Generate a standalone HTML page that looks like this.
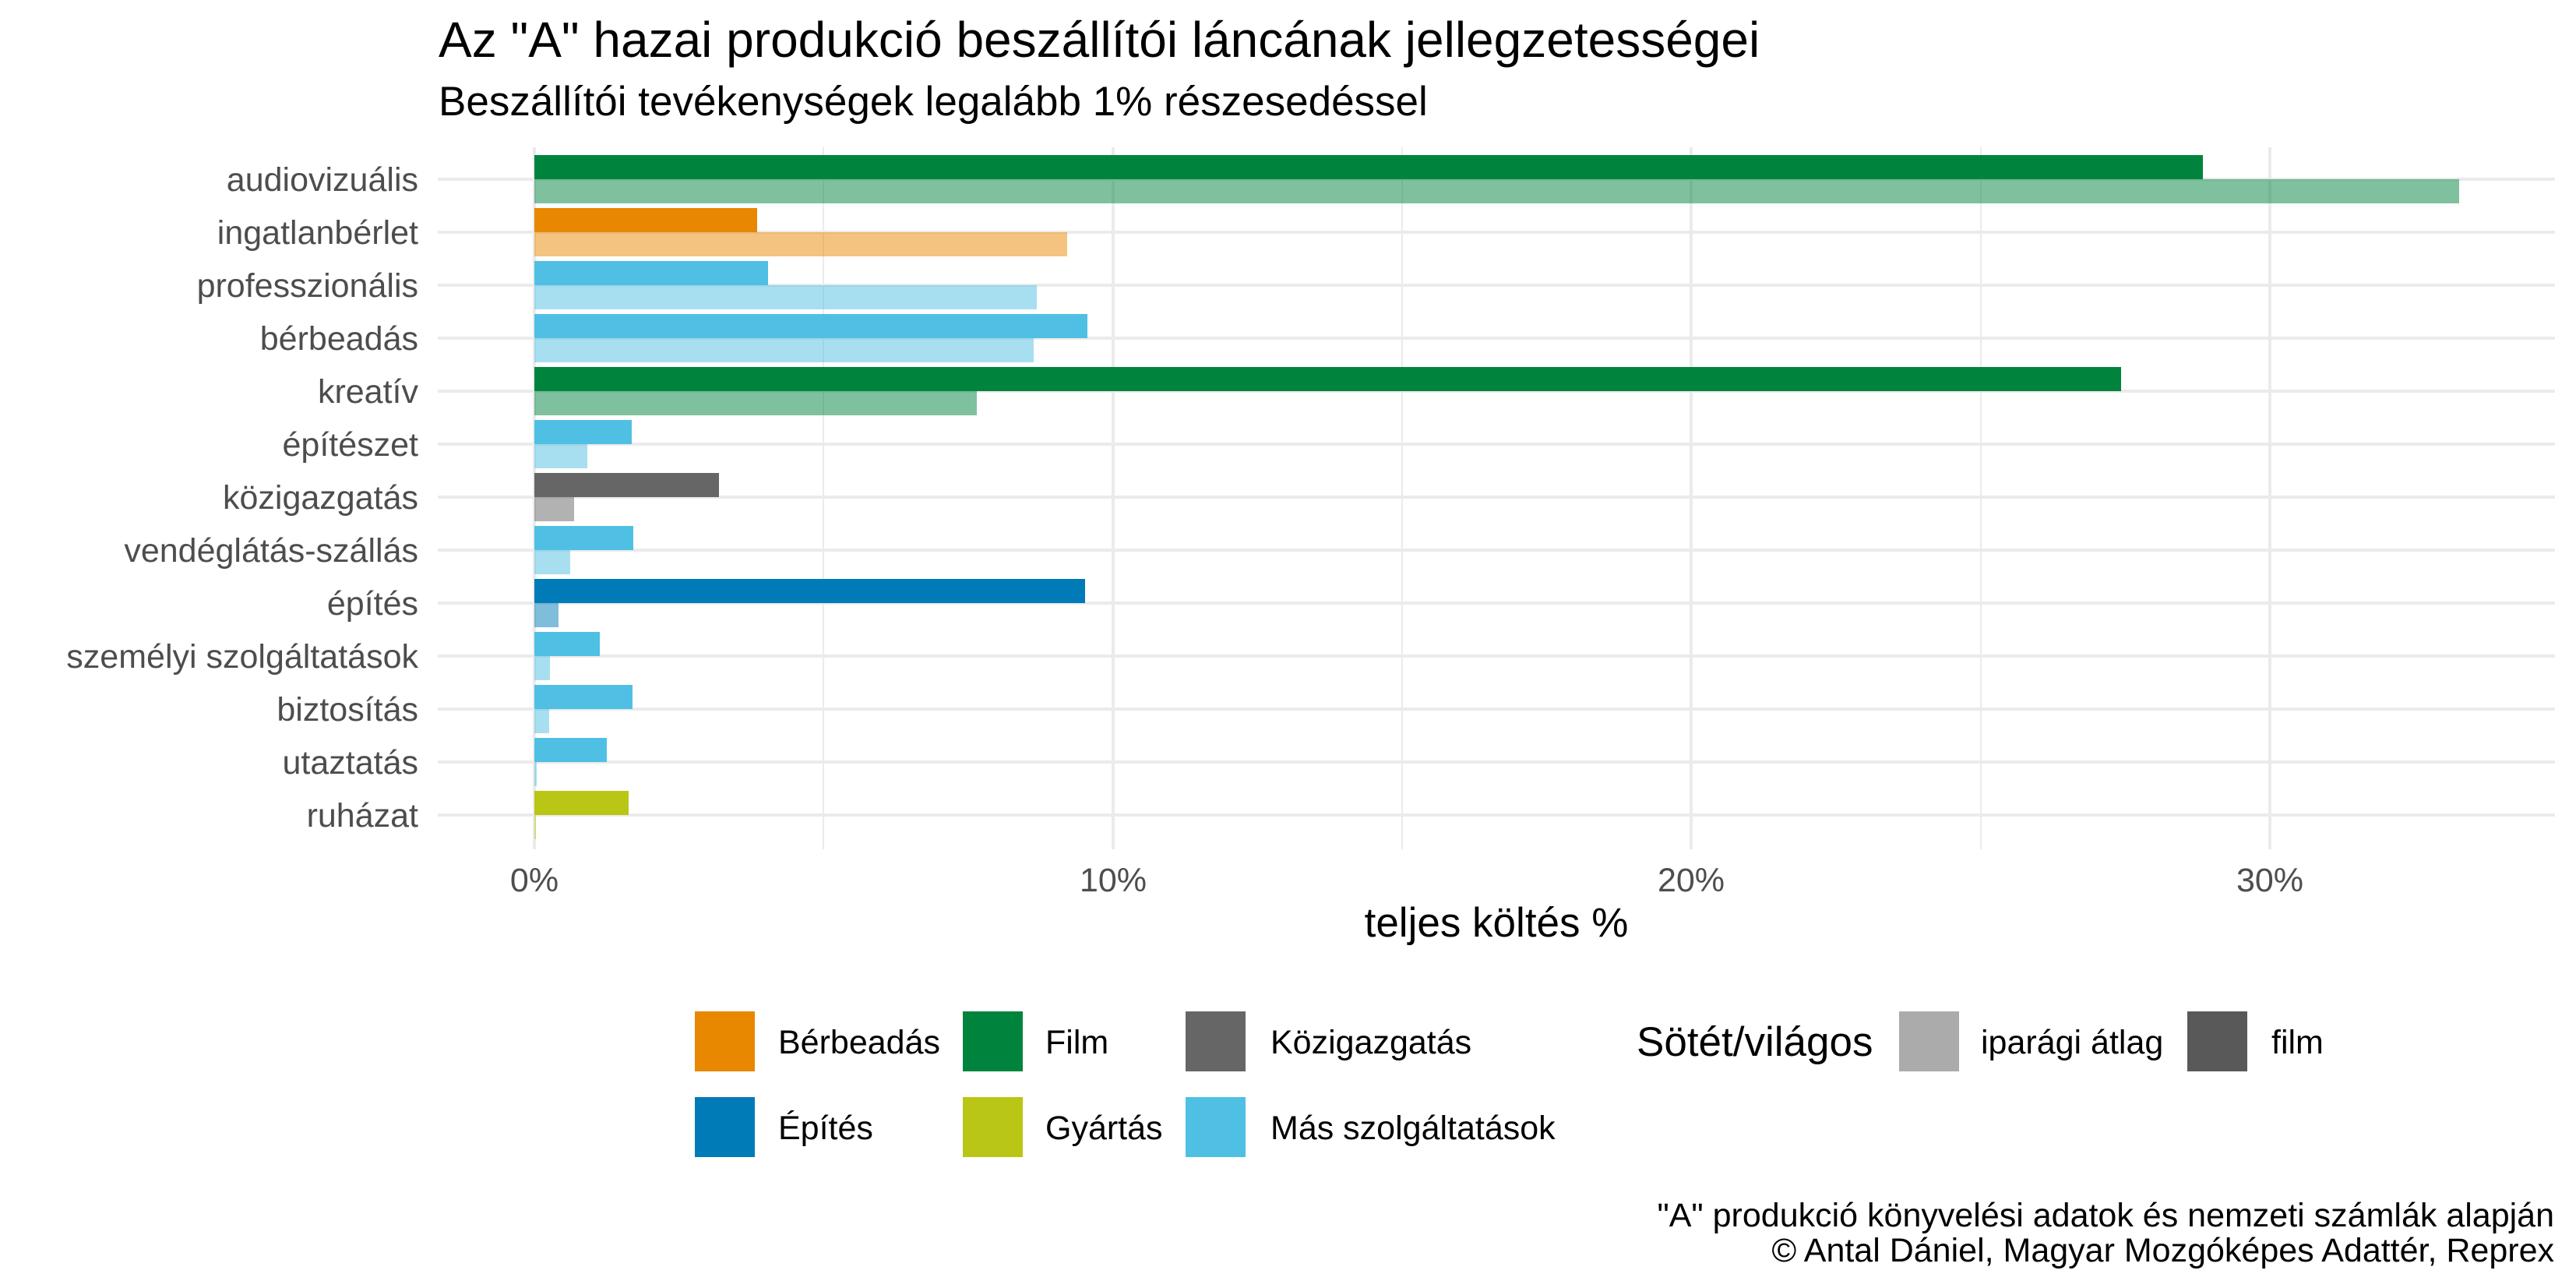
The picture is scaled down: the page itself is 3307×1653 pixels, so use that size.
<!DOCTYPE html>
<html><head><meta charset="utf-8"><style>body{margin:0;background:#fff}svg{display:block}</style></head>
<body>
<svg width="3307" height="1653" viewBox="0 0 3307 1653" xmlns="http://www.w3.org/2000/svg" font-family="Liberation Sans, Arial, sans-serif">
<rect width="3307" height="1653" fill="#fff"/>
<text x="563" y="73" font-size="64" fill="#000">Az "A" hazai produkció beszállítói láncának jellegzetességei</text>
<text x="563" y="148" font-size="53" fill="#000">Beszállítói tevékenységek legalább 1% részesedéssel</text>
<g stroke="#EBEBEB">
<g stroke-width="2">
<line x1="1057" y1="189" x2="1057" y2="1090"/><line x1="1800" y1="189" x2="1800" y2="1090"/><line x1="2543" y1="189" x2="2543" y2="1090"/>
</g>
<g stroke-width="4">
<line x1="686" y1="189" x2="686" y2="1090"/><line x1="1429" y1="189" x2="1429" y2="1090"/><line x1="2171" y1="189" x2="2171" y2="1090"/><line x1="2914" y1="189" x2="2914" y2="1090"/>
<line x1="562" y1="230" x2="3280" y2="230"/><line x1="562" y1="298" x2="3280" y2="298"/><line x1="562" y1="366" x2="3280" y2="366"/><line x1="562" y1="434" x2="3280" y2="434"/><line x1="562" y1="502" x2="3280" y2="502"/><line x1="562" y1="570" x2="3280" y2="570"/><line x1="562" y1="638" x2="3280" y2="638"/><line x1="562" y1="706" x2="3280" y2="706"/><line x1="562" y1="774" x2="3280" y2="774"/><line x1="562" y1="842" x2="3280" y2="842"/><line x1="562" y1="910" x2="3280" y2="910"/><line x1="562" y1="978" x2="3280" y2="978"/><line x1="562" y1="1046" x2="3280" y2="1046"/>
</g></g>
<g>
<rect x="686" y="199" width="2142" height="31" fill="#00843D"/><rect x="686" y="230" width="2471" height="31" fill="#00843D" fill-opacity="0.5"/>
<rect x="686" y="267" width="286" height="31" fill="#E88700"/><rect x="686" y="298" width="684" height="31" fill="#E88700" fill-opacity="0.5"/>
<rect x="686" y="335" width="300" height="31" fill="#4FC0E3"/><rect x="686" y="366" width="645" height="31" fill="#4FC0E3" fill-opacity="0.5"/>
<rect x="686" y="403" width="710" height="31" fill="#4FC0E3"/><rect x="686" y="434" width="641" height="31" fill="#4FC0E3" fill-opacity="0.5"/>
<rect x="686" y="471" width="2037" height="31" fill="#00843D"/><rect x="686" y="502" width="568" height="31" fill="#00843D" fill-opacity="0.5"/>
<rect x="686" y="539" width="125" height="31" fill="#4FC0E3"/><rect x="686" y="570" width="68" height="31" fill="#4FC0E3" fill-opacity="0.5"/>
<rect x="686" y="607" width="237" height="31" fill="#666666"/><rect x="686" y="638" width="51" height="31" fill="#666666" fill-opacity="0.5"/>
<rect x="686" y="675" width="127" height="31" fill="#4FC0E3"/><rect x="686" y="706" width="46" height="31" fill="#4FC0E3" fill-opacity="0.5"/>
<rect x="686" y="743" width="707" height="31" fill="#007BB8"/><rect x="686" y="774" width="31" height="31" fill="#007BB8" fill-opacity="0.5"/>
<rect x="686" y="811" width="84" height="31" fill="#4FC0E3"/><rect x="686" y="842" width="20" height="31" fill="#4FC0E3" fill-opacity="0.5"/>
<rect x="686" y="879" width="126" height="31" fill="#4FC0E3"/><rect x="686" y="910" width="19" height="31" fill="#4FC0E3" fill-opacity="0.5"/>
<rect x="686" y="947" width="93" height="31" fill="#4FC0E3"/><rect x="686" y="978" width="3" height="31" fill="#4FC0E3" fill-opacity="0.5"/>
<rect x="686" y="1015" width="121" height="31" fill="#BAC615"/><rect x="686" y="1046" width="2" height="31" fill="#BAC615" fill-opacity="0.5"/>
</g>
<g font-size="43" fill="#4D4D4D" text-anchor="end">
<text x="537" y="245">audiovizuális</text><text x="537" y="313">ingatlanbérlet</text><text x="537" y="381">professzionális</text><text x="537" y="449">bérbeadás</text><text x="537" y="517">kreatív</text><text x="537" y="585">építészet</text><text x="537" y="653">közigazgatás</text><text x="537" y="721">vendéglátás-szállás</text><text x="537" y="789">építés</text><text x="537" y="857">személyi szolgáltatások</text><text x="537" y="925">biztosítás</text><text x="537" y="993">utaztatás</text><text x="537" y="1061">ruházat</text>
</g>
<g font-size="43" fill="#4D4D4D" text-anchor="middle">
<text x="686" y="1144">0%</text><text x="1429" y="1144">10%</text><text x="2171" y="1144">20%</text><text x="2914" y="1144">30%</text>
</g>
<text x="1921" y="1202" font-size="53" text-anchor="middle" fill="#000">teljes költés %</text>
<g>
<rect x="892" y="1298" width="77" height="77" fill="#E88700"/><rect x="1236" y="1298" width="77" height="77" fill="#00843D"/><rect x="1522" y="1298" width="77" height="77" fill="#666666"/>
<rect x="892" y="1408" width="77" height="77" fill="#007BB8"/><rect x="1236" y="1408" width="77" height="77" fill="#BAC615"/><rect x="1522" y="1408" width="77" height="77" fill="#4FC0E3"/>
<rect x="2438" y="1298" width="77" height="77" fill="#ABABAB"/><rect x="2808" y="1298" width="77" height="77" fill="#595959"/>
</g>
<g font-size="43" fill="#000">
<text x="999" y="1352">Bérbeadás</text><text x="1342" y="1352">Film</text><text x="1631" y="1352">Közigazgatás</text>
<text x="999" y="1462">Építés</text><text x="1342" y="1462">Gyártás</text><text x="1631" y="1462">Más szolgáltatások</text>
<text x="2543" y="1352">iparági átlag</text><text x="2916" y="1352">film</text>
</g>
<text x="2101" y="1355" font-size="53" fill="#000">Sötét/világos</text>
<g font-size="43" fill="#000" text-anchor="end">
<text x="3279" y="1574">"A" produkció könyvelési adatok és nemzeti számlák alapján</text>
<text x="3279" y="1619">© Antal Dániel, Magyar Mozgóképes Adattér, Reprex</text>
</g>
</svg>
</body></html>
